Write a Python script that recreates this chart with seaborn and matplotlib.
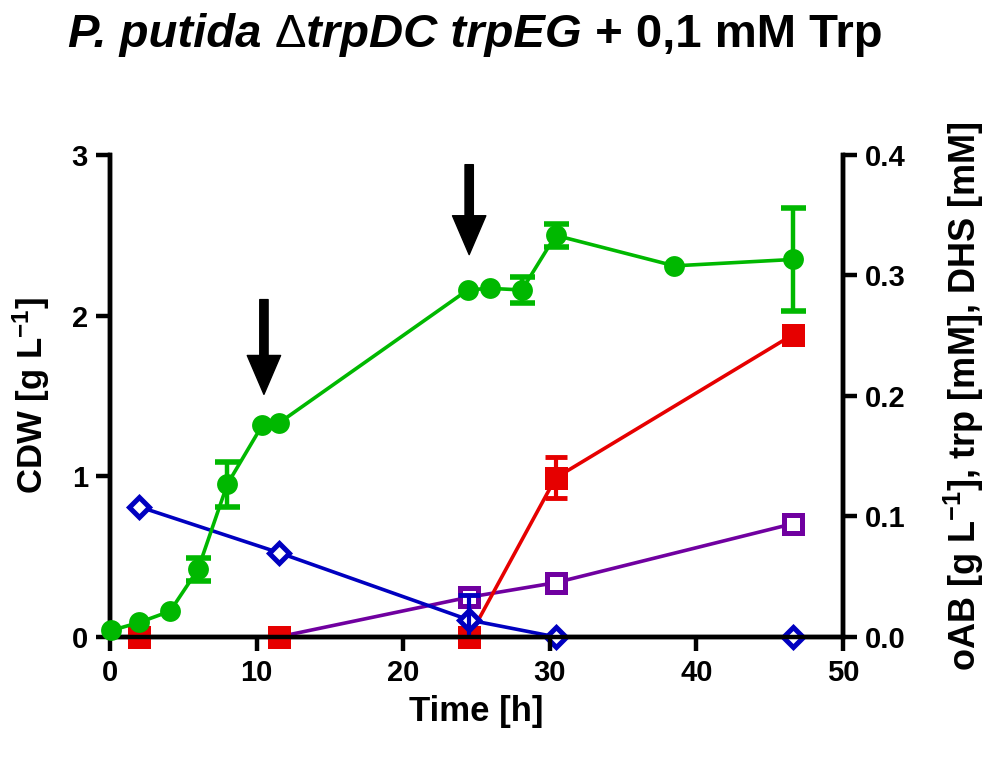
import matplotlib
matplotlib.use('Agg')
import matplotlib.pyplot as plt
from matplotlib.text import Annotation
import seaborn as sns
import numpy as np
import pandas as pd

# CDW (left axis)
cdw_time = [0.1, 2.0, 4.1, 6.0, 8.0, 10.4, 11.5, 24.4, 25.9, 28.1, 30.4, 38.5, 46.6]
cdw_val = [0.04, 0.09, 0.16, 0.42, 0.95, 1.32, 1.33, 2.16, 2.17, 2.16, 2.50, 2.31, 2.35]
cdw_err = [0.0, 0.0, 0.0, 0.07, 0.14, 0.0, 0.0, 0.0, 0.0, 0.08, 0.07, 0.0, 0.32]

# right axis series
sample_time = [2.0, 11.5, 24.5, 30.4, 46.6]
oab_val = [0.0, 0.0, 0.0, 0.132, 0.251]
oab_err = [0.0, 0.0, 0.0, 0.017, 0.0]
trp_val = [0.108, 0.070, 0.014, 0.0, 0.0]
trp_err = [0.0, 0.0, 0.021, 0.0, 0.0]
dhs_val = [0.0, 0.0, 0.033, 0.045, 0.094]
dhs_err = [0.0, 0.0, 0.0, 0.0, 0.0]

# feeding arrows (time, start CDW, end CDW)
arrow_time = [10.5, 24.5]
arrow_top = [2.10, 2.94]
arrow_tip = [1.51, 2.38]

GREEN = '#00b800'
RED = '#e60000'
BLUE = '#0000c0'
PURPLE = '#7000a0'

sns.set_theme(style='ticks')
plt.rcParams['font.family'] = ['Liberation Sans', 'DejaVu Sans']
plt.rcParams['font.weight'] = 'bold'
plt.rcParams['text.color'] = 'black'
plt.rcParams['axes.labelcolor'] = 'black'
plt.rcParams['mathtext.fontset'] = 'custom'
plt.rcParams['mathtext.rm'] = 'Liberation Sans:bold'
plt.rcParams['mathtext.bf'] = 'Liberation Sans:bold'
plt.rcParams['mathtext.default'] = 'bf'

fig = plt.figure(figsize=(10, 7.6), dpi=100)
ax = fig.add_axes([0.11, 0.162, 0.733, 0.634])
ax2 = ax.twinx()

lw = 2.6
# right axis series
for vals, errs, col, mk, fill in [
    (dhs_val, dhs_err, PURPLE, 's', 'white'),
    (oab_val, oab_err, RED, 's', RED),
    (trp_val, trp_err, BLUE, 'D', 'white'),
]:
    df = pd.DataFrame({'t': sample_time, 'v': vals})
    sns.lineplot(data=df, x='t', y='v', ax=ax2, color=col, lw=lw, marker=mk,
                 markersize=12.5 if mk == 's' else 10, markerfacecolor=fill,
                 markeredgecolor=col, markeredgewidth=3.6, clip_on=False, zorder=3)
    e = np.array(errs)
    m = e > 0
    if m.any():
        ax2.errorbar(np.array(sample_time)[m], np.array(vals)[m], yerr=e[m], fmt='none',
                     ecolor=col, elinewidth=3, capsize=8, capthick=3.5, zorder=3)

ax2.set_ylim(0, 0.4)
ax2.set_yticks([0.0, 0.1, 0.2, 0.3, 0.4])
ax2.set_yticklabels(['0.0', '0.1', '0.2', '0.3', '0.4'])

# CDW on top
ax.set_zorder(ax2.get_zorder() + 1)
ax.patch.set_visible(False)
dfc = pd.DataFrame({'t': cdw_time, 'v': cdw_val})
sns.lineplot(data=dfc, x='t', y='v', ax=ax, color=GREEN, lw=lw, marker='o',
             markersize=15, markeredgecolor=GREEN, markeredgewidth=0, clip_on=False, zorder=4)
e = np.array(cdw_err)
m = e > 0
ax.errorbar(np.array(cdw_time)[m], np.array(cdw_val)[m], yerr=e[m], fmt='none',
            ecolor=GREEN, elinewidth=3.2, capsize=9, capthick=4, zorder=4)

for t, y0, y1 in zip(arrow_time, arrow_top, arrow_tip):
    ax.annotate('', xy=(t, y1), xytext=(t, y0),
                arrowprops=dict(facecolor='black', edgecolor='black', width=6,
                                headwidth=24, headlength=28, shrink=0))

ax.set_xlim(0, 50)
ax.set_ylim(0, 3)
ax.set_xticks([0, 10, 20, 30, 40, 50])
ax.set_yticks([0, 1, 2, 3])

for a in (ax, ax2):
    for s in a.spines.values():
        s.set_linewidth(3.2)
        s.set_color('black')
    a.spines['top'].set_visible(False)
    a.tick_params(axis='both', width=3.2, length=10, labelsize=21, color='black',
                  labelcolor='black', direction='out', pad=6)
    a.set_xlabel('')
    a.set_ylabel('')
    a.grid(False)

ax.set_xlabel('Time [h]', fontsize=25, fontweight='bold', labelpad=6)
ax.set_ylabel('CDW [g L$^{-1}$]', fontsize=25, fontweight='bold', labelpad=14)
ax2.set_ylabel('oAB [g L$^{-1}$], trp [mM], DHS [mM]', fontsize=26, fontweight='bold',
               labelpad=26, rotation=90)

# title with mixed italic/upright pieces
pieces = [('P. putida ', 'italic', 'bold'), ('\u0394', 'normal', 'normal'),
          ('trpDC trpEG', 'italic', 'bold'), (' + 0,1 mM Trp', 'normal', 'bold')]
prev = fig.text(0.068, 0.938, pieces[0][0], fontsize=34, fontstyle=pieces[0][1],
                fontweight=pieces[0][2], ha='left', va='baseline')
for txt, style, weight in pieces[1:]:
    prev = fig.add_artist(Annotation(
        txt, xy=(1, 0), xycoords=prev, xytext=(0, 0), textcoords='offset points',
        fontsize=34, fontstyle=style, fontweight=weight, ha='left', va='bottom'))

fig.savefig('out.png', dpi=100)
